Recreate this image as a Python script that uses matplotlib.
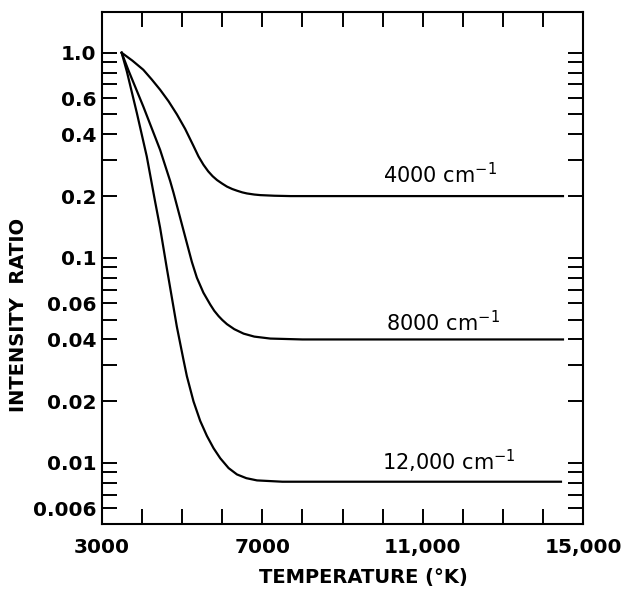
""" Intensity ratio vs temperature for three wavenumbers
    log scale, all ticks inward
"""
import matplotlib
matplotlib.use('Agg')
import matplotlib.pyplot as plt
from matplotlib.ticker import FixedLocator, FixedFormatter, NullFormatter

# curve data: temperature (K) and intensity ratio
temp_4000 = [3490, 3758, 4030, 4240, 4450, 4660, 4870, 5075, 5280, 5408, 5530, 5650, 5760, 5870, 6000, 6117, 6250,
             6367, 6500, 6617, 6800, 6950, 7300, 7700, 14500]
ratio_4000 = [1.0, 0.915, 0.826, 0.741, 0.66, 0.58, 0.50, 0.425, 0.352, 0.312, 0.2845, 0.264, 0.250, 0.2394, 0.230,
              0.2225, 0.2165, 0.2125, 0.2085, 0.206, 0.2035, 0.2022, 0.2008, 0.200, 0.200]

temp_8000 = [3490, 3660, 4030, 4450, 4700, 4783, 4950, 5117, 5242, 5367, 5530, 5700, 5800, 5908, 6000, 6117, 6300,
             6533, 6800, 7200, 8000, 14500]
ratio_8000 = [1.0, 0.82, 0.547, 0.336, 0.237, 0.208, 0.1567, 0.118, 0.0955, 0.080, 0.0676, 0.0592, 0.0552, 0.052,
              0.0498, 0.0475, 0.0449, 0.0427, 0.0413, 0.0404, 0.040, 0.040]

temp_12000 = [3490, 3620, 3870, 4117, 4325, 4450, 4617, 4867, 5033, 5117, 5283, 5450, 5617, 5783, 5950, 6158, 6367,
              6600, 6867, 7500, 14450]
ratio_12000 = [1.0, 0.81, 0.508, 0.312, 0.188, 0.140, 0.089, 0.0462, 0.0318, 0.0265, 0.01995, 0.01603, 0.01355,
               0.0118, 0.01054, 0.00944, 0.00879, 0.00843, 0.00822, 0.0081, 0.0081]

curve_labels = ['4000 cm$^{-1}$', '8000 cm$^{-1}$', '12,000 cm$^{-1}$']
label_pos = [(10000, 0.23), (10075, 0.0437), (9990, 0.00925)]

# axis ticks
x_major = [3000, 7000, 11000, 15000]
x_major_labels = ['3000', '7000', '11,000', '15,000']
x_minor = [4000, 5000, 6000, 8000, 9000, 10000, 12000, 13000, 14000]
y_major = [1.0, 0.6, 0.4, 0.2, 0.1, 0.06, 0.04, 0.02, 0.01, 0.006]
y_major_labels = ['1.0', '0.6', '0.4', '0.2', '0.1', '0.06', '0.04', '0.02', '0.01', '0.006']
y_minor = [0.9, 0.8, 0.7, 0.5, 0.3, 0.09, 0.08, 0.07, 0.05, 0.03, 0.009, 0.008, 0.007]


def main():
    plt.rcParams['font.family'] = ['DejaVu Sans']
    plt.rcParams['mathtext.fontset'] = 'dejavusans'

    fig = plt.figure(figsize=(6.25, 5.9), dpi=100)
    ax = fig.add_axes([0.1632, 0.1119, 0.7696, 0.8678])

    # the three curves
    for t, r in [(temp_4000, ratio_4000), (temp_8000, ratio_8000), (temp_12000, ratio_12000)]:
        ax.plot(t, r, color='black', linewidth=1.6, solid_joinstyle='round')

    for text, (x, y) in zip(curve_labels, label_pos):
        ax.text(x, y, text, fontsize=15, ha='left', va='baseline', color='black')

    ax.set_yscale('log')
    ax.set_xlim(3000, 15000)
    ax.set_ylim(0.00504, 1.58)

    ax.xaxis.set_major_locator(FixedLocator(x_major))
    ax.xaxis.set_major_formatter(FixedFormatter(x_major_labels))
    ax.xaxis.set_minor_locator(FixedLocator(x_minor))
    ax.xaxis.set_minor_formatter(NullFormatter())
    ax.yaxis.set_major_locator(FixedLocator(y_major))
    ax.yaxis.set_major_formatter(FixedFormatter(y_major_labels))
    ax.yaxis.set_minor_locator(FixedLocator(y_minor))
    ax.yaxis.set_minor_formatter(NullFormatter())

    ax.tick_params(which='both', direction='in', top=True, right=True, length=10.5, width=1.4, color='black')
    ax.tick_params(axis='x', which='major', pad=10, labelsize=14.5)
    ax.tick_params(axis='y', which='major', pad=4, labelsize=14.5)
    for lab in ax.get_xticklabels() + ax.get_yticklabels():
        lab.set_fontweight('bold')

    for sp in ax.spines.values():
        sp.set_linewidth(1.5)

    # axis titles
    ax.text(0.543, -0.105, 'TEMPERATURE (\u00b0K)', transform=ax.transAxes, ha='center', va='center',
            fontsize=14, fontweight='bold')
    ax.text(-0.173, 0.408, 'INTENSITY  RATIO', transform=ax.transAxes, ha='center', va='center',
            rotation=90, fontsize=14, fontweight='bold')

    plt.savefig('out.png', dpi=100)


if __name__ == '__main__':
    main()
